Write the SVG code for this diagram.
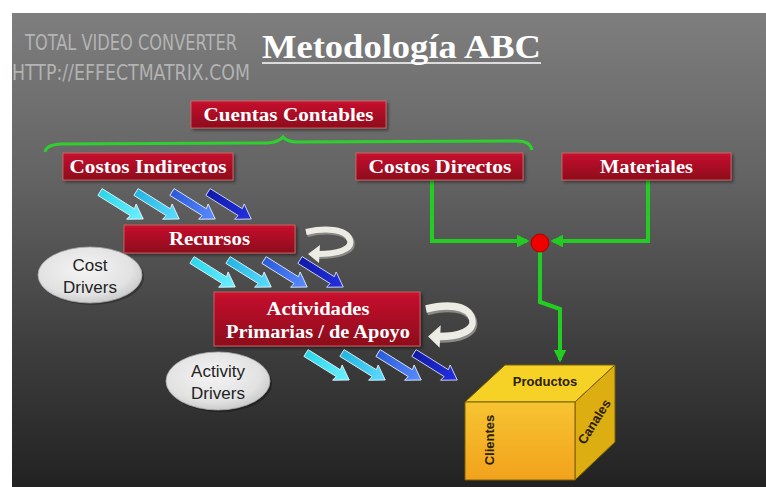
<svg xmlns="http://www.w3.org/2000/svg" width="766" height="487" viewBox="0 0 766 487">
<defs>
<linearGradient id="bg" x1="0" y1="0" x2="0" y2="1">
<stop offset="0" stop-color="#7e7e7e"/>
<stop offset="0.35" stop-color="#636363"/>
<stop offset="0.7" stop-color="#3e3e3e"/>
<stop offset="1" stop-color="#222"/>
</linearGradient>
<linearGradient id="red" x1="0" y1="0" x2="0" y2="1">
<stop offset="0" stop-color="#c8122e"/>
<stop offset="1" stop-color="#8c0a1c"/>
</linearGradient>
<radialGradient id="ell" cx="0.45" cy="0.4" r="0.65">
<stop offset="0" stop-color="#f4f4f4"/>
<stop offset="0.7" stop-color="#e2e2e2"/>
<stop offset="1" stop-color="#c4c4c4"/>
</radialGradient>
<linearGradient id="front" x1="0" y1="0" x2="0" y2="1">
<stop offset="0" stop-color="#f7c432"/>
<stop offset="1" stop-color="#f2a21c"/>
</linearGradient>
<linearGradient id="c1" x1="0" y1="0" x2="1" y2="0"><stop offset="0" stop-color="#2ad6e8"/><stop offset="1" stop-color="#6ff0ff"/></linearGradient>
<linearGradient id="c2" x1="0" y1="0" x2="1" y2="0"><stop offset="0" stop-color="#22b4e0"/><stop offset="1" stop-color="#5fdcff"/></linearGradient>
<linearGradient id="c3" x1="0" y1="0" x2="1" y2="0"><stop offset="0" stop-color="#2a5ad8"/><stop offset="1" stop-color="#5a8cff"/></linearGradient>
<linearGradient id="c4" x1="0" y1="0" x2="1" y2="0"><stop offset="0" stop-color="#101aa8"/><stop offset="1" stop-color="#2430e0"/></linearGradient>
<path id="ar" d="M0,-4 L38,-4 L37,-9 L51,0 L37,9 L38,4 L0,4 Z"/>
<g id="quad">
<use href="#ar" fill="url(#c1)" stroke="#e8f8ff" stroke-width="0.8" transform="translate(0,0) rotate(32)"/>
<use href="#ar" fill="url(#c2)" stroke="#e8f8ff" stroke-width="0.8" transform="translate(36,0) rotate(32)"/>
<use href="#ar" fill="url(#c3)" stroke="#e8f0ff" stroke-width="0.8" transform="translate(72,0) rotate(32)"/>
<use href="#ar" fill="url(#c4)" stroke="#dde4ff" stroke-width="0.8" transform="translate(108,0) rotate(32)"/>
</g>
<g id="loop">
<path d="M0,4 C18,0 40,0 44,12 C47,22 30,26 12,26" fill="none" stroke="#8a8a86" stroke-width="7" transform="translate(1,1.5)"/>
<path d="M0,4 C18,0 40,0 44,12 C47,22 30,26 12,26" fill="none" stroke="#ecece4" stroke-width="6"/>
<polygon points="2,26 14,17 13,35" fill="#ecece4"/>
</g>
<marker id="gh" viewBox="0 0 10 10" refX="8" refY="5" markerWidth="3.2" markerHeight="3.2" orient="auto" markerUnits="strokeWidth">
<path d="M0,0 L10,5 L0,10 Z" fill="#22cc22"/>
</marker>
<filter id="sh" x="-10%" y="-10%" width="130%" height="140%">
<feDropShadow dx="2" dy="2" stdDeviation="1.5" flood-color="#000" flood-opacity="0.45"/>
</filter>
</defs>
<style>
.box{fill:url(#red);stroke:#d96a6a;stroke-width:0.8;filter:url(#sh)}
.bt{font-family:"Liberation Serif","Times New Roman",serif;font-weight:bold;font-size:18px;fill:#fff;text-anchor:middle}
.et{font-family:"Liberation Sans",Arial,sans-serif;font-size:17px;fill:#222;text-anchor:middle}
.ct{font-family:"Liberation Sans",Arial,sans-serif;font-weight:bold;font-size:13px;fill:#2a2000;text-anchor:middle}
.g{fill:none;stroke:#22cc22;stroke-width:4}
.wm{font-family:"DejaVu Sans Condensed","DejaVu Sans",sans-serif;font-size:22px;fill:#c8c8c8;fill-opacity:0.75}
</style>
<rect x="0" y="0" width="766" height="487" fill="#fff"/>
<rect x="12" y="13" width="754" height="474" fill="url(#bg)"/>

<g id="watermark">
<text class="wm" x="25" y="50" textLength="212" lengthAdjust="spacingAndGlyphs">TOTAL VIDEO CONVERTER</text>
<text class="wm" x="12" y="80" textLength="238" lengthAdjust="spacingAndGlyphs">HTTP://EFFECTMATRIX.COM</text>
</g>

<g id="title">
<text x="262" y="58" font-family="'Liberation Serif','Times New Roman',serif" font-weight="bold" font-size="33" fill="#fff" textLength="279" lengthAdjust="spacingAndGlyphs">Metodología ABC</text>
<line x1="262" y1="63" x2="541" y2="63" stroke="#fff" stroke-width="1.6"/>
</g>

<g id="connectors">
<path d="M45,152 Q46,145 60,144 L268,143 Q279,142 283,137 Q287,142 298,142 L518,141 Q530,141 532,150" fill="none" stroke="#2ed02e" stroke-width="3"/>
<path class="g" d="M432,180 L432,241 L527,241" marker-end="url(#gh)"/>
<path class="g" d="M648,180 L648,241 L553,241" marker-end="url(#gh)"/>
<path class="g" d="M540,252 L540,302 L560,309 L560,360" marker-end="url(#gh)"/>
<circle cx="540" cy="243" r="9" fill="#ee0000" stroke="#aa0000" stroke-width="1"/>
<use href="#quad" transform="translate(100,192)"/>
<use href="#quad" transform="translate(192,260)"/>
<use href="#quad" transform="translate(306,353)"/>
<use href="#loop" transform="translate(306,228)"/>
<use href="#loop" transform="translate(426,304) scale(1.05,1.25)"/>
</g>

<g id="cuentas">
<rect class="box" x="191" y="101" width="195" height="27"/>
<text class="bt" x="288.5" y="121" textLength="170" lengthAdjust="spacingAndGlyphs">Cuentas Contables</text>
</g>
<g id="indirectos">
<rect class="box" x="63" y="153" width="170" height="27"/>
<text class="bt" x="148" y="173" textLength="157" lengthAdjust="spacingAndGlyphs">Costos Indirectos</text>
</g>
<g id="directos">
<rect class="box" x="356" y="153" width="167" height="27"/>
<text class="bt" x="440" y="173" textLength="143" lengthAdjust="spacingAndGlyphs">Costos Directos</text>
</g>
<g id="materiales">
<rect class="box" x="562" y="153" width="169" height="27"/>
<text class="bt" x="646.5" y="173" textLength="93" lengthAdjust="spacingAndGlyphs">Materiales</text>
</g>
<g id="recursos">
<rect class="box" x="124" y="225" width="171" height="28"/>
<text class="bt" x="209.5" y="245" textLength="81" lengthAdjust="spacingAndGlyphs">Recursos</text>
</g>
<g id="actividades">
<rect class="box" x="214" y="292" width="206" height="54"/>
<text class="bt" x="318" y="315" textLength="103" lengthAdjust="spacingAndGlyphs">Actividades</text>
<text class="bt" x="318" y="338" textLength="184" lengthAdjust="spacingAndGlyphs">Primarias / de Apoyo</text>
</g>

<g id="cost-drivers">
<ellipse cx="92" cy="277" rx="52" ry="28" fill="#222" fill-opacity="0.5"/>
<ellipse cx="90" cy="275" rx="52" ry="28" fill="url(#ell)" stroke="#aaa" stroke-width="0.8"/>
<text class="et" x="90" y="271">Cost</text>
<text class="et" x="90" y="293">Drivers</text>
</g>
<g id="activity-drivers">
<ellipse cx="220" cy="383" rx="52" ry="29" fill="#111" fill-opacity="0.5"/>
<ellipse cx="218" cy="381" rx="52" ry="29" fill="url(#ell)" stroke="#aaa" stroke-width="0.8"/>
<text class="et" x="218" y="377">Activity</text>
<text class="et" x="218" y="399">Drivers</text>
</g>

<g id="cubo">
<polygon points="465,402 505,365 615,365 575,402" fill="#f6d226" stroke="#7a6000" stroke-width="1"/>
<polygon points="575,402 615,365 615,442 575,480" fill="#dcae12" stroke="#7a6000" stroke-width="1"/>
<polygon points="465,402 575,402 575,480 465,480" fill="url(#front)" stroke="#7a6000" stroke-width="1"/>
<text class="ct" x="545" y="386">Productos</text>
<text class="ct" transform="translate(494,440) rotate(-90)">Clientes</text>
<text class="ct" font-size="11" transform="translate(598,424) rotate(-58)">Canales</text>
</g>
</svg>
